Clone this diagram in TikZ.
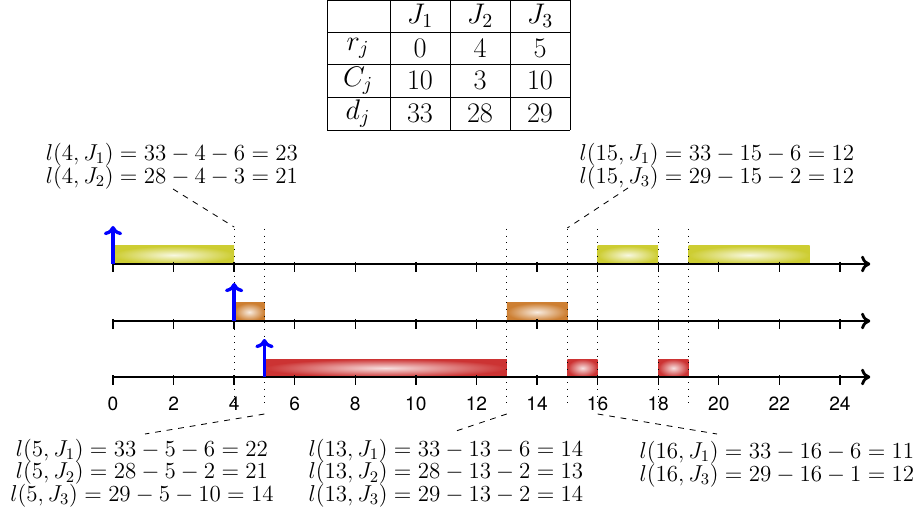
\RequirePackage{fix-cm}
\documentclass[tikz,border=0pt]{standalone}
\usepackage{fontspec}
\newfontfamily\tickfont{TeX Gyre Heros}
\usetikzlibrary{arrows.meta,calc}
\definecolor{jyel}{RGB}{205,205,50}
\definecolor{jora}{RGB}{205,127,50}
\definecolor{jred}{RGB}{204,51,51}
\newcommand\mytightlines{\fontsize{13.8}{13.6}\selectfont\lineskiplimit=-20pt\relax\lineskip=0pt\relax}
\begin{document}
\begin{tikzpicture}[x=0.6pt,y=-0.6pt,
  axisline/.style={line width=1.7pt,-{To[length=5.5pt,width=10pt]}},
  relarrow/.style={blue,line width=2pt,-{To[length=5.5pt,width=11pt]}},
  tickline/.style={line width=0.8pt},
  ticklab/.style={font=\tickfont\fontsize{11.5}{13}\selectfont,inner sep=0pt},
  dotline/.style={line width=0.6pt,dash pattern=on 0.6pt off 3.4pt},
  conn/.style={line width=0.5pt,dash pattern=on 3.5pt off 3.5pt},
  lab/.style={align=center,inner sep=0pt,font=\mytightlines},
  cell/.style={inner sep=0pt,font=\fontsize{17}{18}\selectfont},
  ybar/.style={inner color=white!85!jyel,outer color=jyel},
  obar/.style={inner color=white!85!jora,outer color=jora},
  rbar/.style={inner color=white!85!jred,outer color=jred}]
\useasboundingbox (0,0) rectangle (921,513);

% table
\draw[line width=0.5pt] (327,0) -- (570,0) (327,32) -- (570,32) (327,64) -- (570,64)
  (327,97) -- (570,97) (327,130) -- (570,130)
  (327,0) -- (327,130) (390,0) -- (390,130) (450,0) -- (450,130)
  (510,0) -- (510,130) (570,0) -- (570,130);
\node[cell] (h1) at (420,16) {$J_1$};
\node[cell] (h2) at (480,16) {$J_2$};
\node[cell] (h3) at (540,16) {$J_3$};
\node[cell] (rr) at (358,48) {$r_j$};
\node[cell] (r1) at (420,48) {$0$};
\node[cell] (r2) at (480,48) {$4$};
\node[cell] (r3) at (540,48) {$5$};
\node[cell] (cr) at (358,80.5) {$C_j$};
\node[cell] (c1) at (420,80.5) {$10$};
\node[cell] (c2) at (480,80.5) {$3$};
\node[cell] (c3) at (540,80.5) {$10$};
\node[cell] (dr) at (358,113.5) {$d_j$};
\node[cell] (d1) at (420,113.5) {$33$};
\node[cell] (d2) at (480,113.5) {$28$};
\node[cell] (d3) at (540,113.5) {$29$};

\begin{scope}[shift={(113,0)},x=18.174pt]
  % bars
  \shade[ybar] (0,246) rectangle (4,264);
  \shade[ybar] (16,246) rectangle (18,264);
  \shade[ybar] (19,246) rectangle (23,264);
  \shade[obar] (4,303) rectangle (5,321);
  \shade[obar] (13,303) rectangle (15,321);
  \shade[rbar] (5,359) rectangle (13,377);
  \shade[rbar] (15,359) rectangle (16,377);
  \shade[rbar] (18,359) rectangle (19,377);
  % axes
  \foreach \y/\n in {264/a,321/b,377/c}{
    \coordinate (\n0) at (0,\y);
    \coordinate (\n1) at (25,\y);
    \draw[axisline] (\n0) -- (\n1);
    \foreach \t in {0,2,...,24}
      \draw[tickline] (\t,\y-2) -- (\t,\y+8);
  }
  \foreach \t in {0,2,...,24}
    \node[ticklab] (tl\t) at (\t,404) {\t};
  % dotted guides
  \foreach \t in {4,5,13,15,16,18,19}{
    \coordinate (dt\t) at (\t,229);
    \coordinate (db\t) at (\t,408);
    \draw[dotline] (dt\t) -- (db\t);
  }
  \coordinate (ct4) at (4,227);
  \coordinate (ct15) at (15,228);
  \coordinate (cb5) at (5,414);
  \coordinate (cb13) at (13,414);
  \coordinate (cb16) at (16,414);
  % release arrows
  \coordinate (ra0) at (0,226);
  \coordinate (rb1) at (4,321);
  \coordinate (rb0) at (4,283);
  \coordinate (rc1) at (5,377);
  \coordinate (rc0) at (5,339);
  \draw[relarrow] (a0) -- (ra0);
  \draw[relarrow] (rb1) -- (rb0);
  \draw[relarrow] (rc1) -- (rc0);
\end{scope}

% labels
\node[lab] (LA) at (172,166) {$l(4,J_1)=33-4-6=23$\\$l(4,J_2)=28-4-3=21$};
\node[lab] (LB) at (717,166) {$l(15,J_1)=33-15-6=12$\\$l(15,J_3)=29-15-2=12$};
\node[lab] (LC) at (142,473) {$l(5,J_1)=33-5-6=22$\\$l(5,J_2)=28-5-2=21$\\$l(5,J_3)=29-5-10=14$};
\node[lab] (LD) at (446,473) {$l(13,J_1)=33-13-6=14$\\$l(13,J_2)=28-13-2=13$\\$l(13,J_3)=29-13-2=14$};
\node[lab] (LE) at (777,464) {$l(16,J_1)=33-16-6=11$\\$l(16,J_3)=29-16-1=12$};

\coordinate (pa) at (173,189);
\coordinate (pb) at (628,188);
\coordinate (pc) at (145,434);
\coordinate (pd) at (453,432);
\coordinate (pe) at (717,434);
\draw[conn] (pa) -- (ct4);
\draw[conn] (pb) -- (ct15);
\draw[conn] (cb5) -- (pc);
\draw[conn] (cb13) -- (pd);
\draw[conn] (cb16) -- (pe);
\end{tikzpicture}
\end{document}
